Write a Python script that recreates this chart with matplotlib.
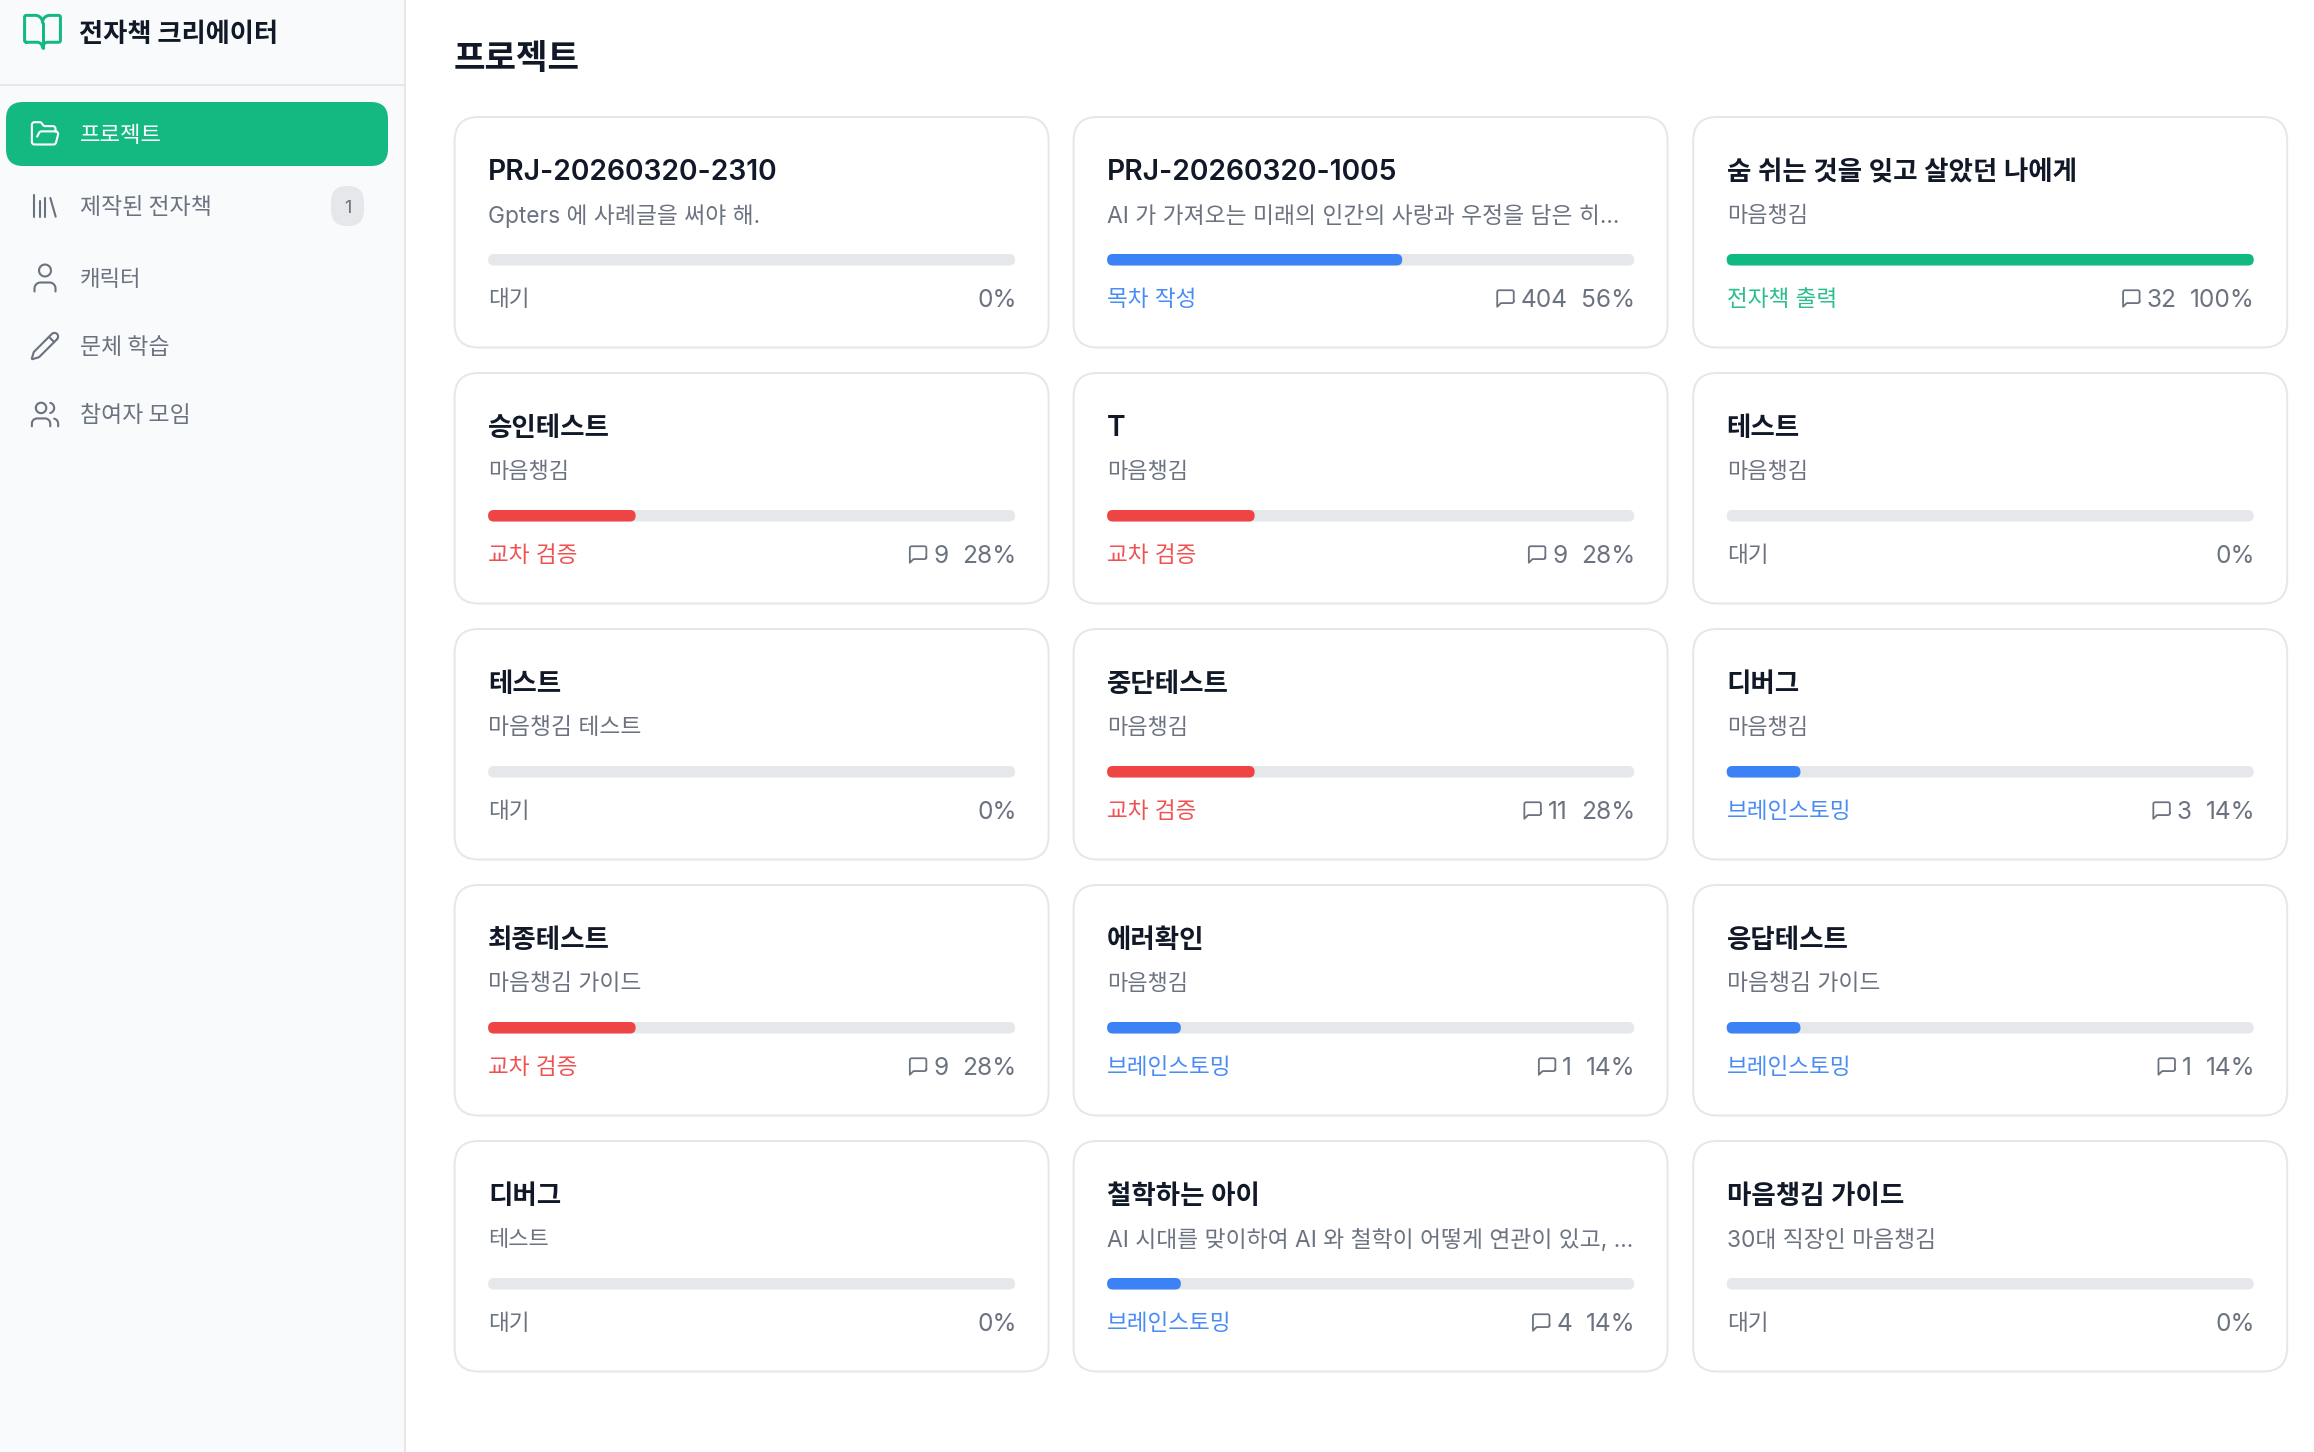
#!/usr/bin/env python3
"""Project dashboard screenshot redrawn on a full-figure pixel axes."""

import math
import re

import matplotlib
matplotlib.use("Agg")
import matplotlib.pyplot as plt
from matplotlib.patches import FancyBboxPatch, PathPatch, Rectangle
from matplotlib.path import Path

# ---------------------------
# Data
# ---------------------------

NAV_LABELS = ["프로젝트", "제작된 전자책", "캐릭터", "문체 학습", "참여자 모임"]
NAV_BADGE = "1"
APP_TITLE = "전자책 크리에이터"
PAGE_TITLE = "프로젝트"

TITLES = [
    "PRJ-20260320-2310", "PRJ-20260320-1005", "숨 쉬는 것을 잊고 살았던 나에게",
    "승인테스트", "T", "테스트",
    "테스트", "중단테스트", "디버그",
    "최종테스트", "에러확인", "응답테스트",
    "디버그", "철학하는 아이", "마음챙김 가이드",
]
SUBTITLES = [
    "Gpters 에 사례글을 써야 해.", "AI 가 가져오는 미래의 인간의 사랑과 우정을 담은 히...", "마음챙김",
    "마음챙김", "마음챙김", "마음챙김",
    "마음챙김 테스트", "마음챙김", "마음챙김",
    "마음챙김 가이드", "마음챙김", "마음챙김 가이드",
    "테스트", "AI 시대를 맞이하여 AI 와 철학이 어떻게 연관이 있고, ...", "30대 직장인 마음챙김",
]
STAGES = [
    "대기", "목차 작성", "전자책 출력",
    "교차 검증", "교차 검증", "대기",
    "대기", "교차 검증", "브레인스토밍",
    "교차 검증", "브레인스토밍", "브레인스토밍",
    "대기", "브레인스토밍", "대기",
]
COMMENTS = [None, 404, 32, 9, 9, None, None, 11, 3, 9, 1, 1, None, 4, None]
PERCENTS = [0, 56, 100, 28, 28, 0, 0, 28, 14, 28, 14, 14, 0, 14, 0]

BAR_COLORS = {
    "대기": "#6b7280",
    "목차 작성": "#3b82f6",
    "브레인스토밍": "#3b82f6",
    "교차 검증": "#ef4444",
    "전자책 출력": "#10b981",
}
# the stage labels are set thin in the screenshot, so they read paler than the bars
STAGE_TEXT_COLORS = {
    "대기": "#6b7280",
    "목차 작성": "#4a8cf6",
    "브레인스토밍": "#4a8cf6",
    "교차 검증": "#f05252",
    "전자책 출력": "#2bbf8e",
}

# ---------------------------
# Layout (pixels of the 2314x1452 screen)
# ---------------------------

W, H = 2314, 1452
DPI = 100
GREEN = "#13b981"
INK = "#111827"
GRAY = "#6b7280"
LINE = "#e5e7eb"
FONT = ["Inter", "Noto Sans CJK KR"]
KR_FIRST = ["Noto Sans CJK KR", "Inter"]

CARD_X = [454.6, 1073.6, 1693.2]
CARD_Y = [117, 373, 629, 885, 1141]
CARD_W, CARD_H = 594, 230.5
PAD = 33.5

NAV_Y = [134, 206, 278, 346, 414.5]
NAV_ICON_SIZE = [31.5, 32, 36, 31.5, 31.5]

ICON_BOOK = ["M12 7v14", "M3 18a1 1 0 0 1-1-1V4a1 1 0 0 1 1-1h5a4 4 0 0 1 4 4 4 4 0 0 1 4-4h5a1 1 0 0 1 1 1v13a1 1 0 0 1-1 1h-6a3 3 0 0 0-3 3 3 3 0 0 0-3-3z"]
ICON_FOLDER = ["M6 14l1.5-2.9A2 2 0 0 1 9.24 10H20a2 2 0 0 1 1.94 2.5l-1.54 6a2 2 0 0 1-1.95 1.5H4a2 2 0 0 1-2-2V5a2 2 0 0 1 2-2h3.9a2 2 0 0 1 1.69.9l.81 1.2a2 2 0 0 0 1.67.9H18a2 2 0 0 1 2 2v2"]
ICON_LIBRARY = ["M16 6l4 14", "M12 6v14", "M8 8v12", "M4 4v16"]
ICON_USER = ["M19 21v-2a4 4 0 0 0-4-4H9a4 4 0 0 0-4 4v2", "M8 7a4 4 0 1 0 8 0a4 4 0 1 0-8 0z"]
ICON_PENCIL = ["M21.174 6.812a1 1 0 0 0-3.986-3.987L3.842 16.174a2 2 0 0 0-.5.83l-1.321 4.352a.5.5 0 0 0 .623.622l4.353-1.32a2 2 0 0 0 .83-.497z", "M15 5l4 4"]
ICON_USERS = ["M16 21v-2a4 4 0 0 0-4-4H6a4 4 0 0 0-4 4v2", "M5 7a4 4 0 1 0 8 0a4 4 0 1 0-8 0z", "M22 21v-2a4 4 0 0 0-3-3.87", "M16 3.13a4 4 0 0 1 0 7.75"]
ICON_COMMENT = ["M21 15a2 2 0 0 1-2 2H7l-4 4V5a2 2 0 0 1 2-2h14a2 2 0 0 1 2 2z"]
NAV_ICONS = [ICON_FOLDER, ICON_LIBRARY, ICON_USER, ICON_PENCIL, ICON_USERS]


# ---------------------------
# Helpers
# ---------------------------

def arc_points(x0, y0, rx, ry, large, sweep, x1, y1, n=10):
    # svg endpoint arc to polyline (no x-rotation in these icons)
    dx, dy = (x0 - x1) / 2, (y0 - y1) / 2
    scale = math.sqrt(max(1.0, dx * dx / (rx * rx) + dy * dy / (ry * ry)))
    rx, ry = rx * scale, ry * scale
    num = rx**2 * ry**2 - rx**2 * dy**2 - ry**2 * dx**2
    den = rx**2 * dy**2 + ry**2 * dx**2
    k = math.sqrt(max(0.0, num / den))
    if large == sweep:
        k = -k
    cxp, cyp = k * rx * dy / ry, -k * ry * dx / rx
    cx, cy = cxp + (x0 + x1) / 2, cyp + (y0 + y1) / 2
    a0 = math.atan2((dy - cyp) / ry, (dx - cxp) / rx)
    a1 = math.atan2((-dy - cyp) / ry, (-dx - cxp) / rx)
    if sweep and a1 < a0:
        a1 += 2 * math.pi
    if not sweep and a1 > a0:
        a1 -= 2 * math.pi
    return [
        (cx + rx * math.cos(a0 + (a1 - a0) * i / n), cy + ry * math.sin(a0 + (a1 - a0) * i / n))
        for i in range(1, n + 1)
    ]


def svg_to_path(d, ox, oy, s):
    tokens = re.findall(r"[a-zA-Z]|-?\d*\.?\d+", d)
    verts, codes = [], []
    i, x, y, start = 0, 0.0, 0.0, (0.0, 0.0)
    cmd = None

    def num():
        nonlocal i
        v = float(tokens[i])
        i += 1
        return v

    while i < len(tokens):
        if tokens[i].isalpha():
            cmd = tokens[i]
            i += 1
        if cmd in "zZ":
            verts.append(start)
            codes.append(Path.LINETO)
            continue
        rel = cmd.islower()
        c = cmd.upper()
        if c == "M":
            a, b = num(), num()
            x, y = (x + a, y + b) if rel else (a, b)
            start = (x, y)
            verts.append((x, y))
            codes.append(Path.MOVETO)
        elif c == "L":
            a, b = num(), num()
            x, y = (x + a, y + b) if rel else (a, b)
            verts.append((x, y))
            codes.append(Path.LINETO)
        elif c == "H":
            a = num()
            x = x + a if rel else a
            verts.append((x, y))
            codes.append(Path.LINETO)
        elif c == "V":
            a = num()
            y = y + a if rel else a
            verts.append((x, y))
            codes.append(Path.LINETO)
        elif c == "A":
            rx, ry, _rot, large, sweep, a, b = [num() for _ in range(7)]
            ex, ey = (x + a, y + b) if rel else (a, b)
            pts = arc_points(x, y, rx, ry, int(large), int(sweep), ex, ey)
            verts.extend(pts)
            codes.extend([Path.LINETO] * len(pts))
            x, y = ex, ey
    return Path([(ox + vx * s, oy + vy * s) for vx, vy in verts], codes)


def draw_icon(ax, paths, cx, cy, size, color, width):
    s = size / 24
    for d in paths:
        path = svg_to_path(d, cx - size / 2, cy - size / 2, s)
        ax.add_patch(PathPatch(path, fill=False, edgecolor=color, lw=width * 72 / DPI,
                               capstyle="round", joinstyle="round", zorder=4))


def rounded(ax, x, y, w, h, r, face, edge="none", lw=0.0, z=2):
    ax.add_patch(FancyBboxPatch((x, y), w, h, boxstyle=f"round,pad=0,rounding_size={r}",
                                facecolor=face, edgecolor=edge, lw=lw * 72 / DPI, zorder=z))


def label(ax, x, y, s, px, color, weight="normal", ha="left", va="baseline", family=None):
    return ax.text(x, y, s, fontsize=px * 72 / DPI, color=color, weight=weight, ha=ha, va=va,
                   family=family or FONT, zorder=5)


def text_width(fig, artist):
    return artist.get_window_extent(fig.canvas.get_renderer()).width


# ---------------------------
# Drawing
# ---------------------------

def draw_sidebar(fig, ax):
    ax.add_patch(Rectangle((0, 0), 404, H, facecolor="#f9fafb", edgecolor="none", zorder=1))
    ax.add_patch(Rectangle((404, 0), 2, H, facecolor=LINE, edgecolor="none", zorder=1))
    ax.add_patch(Rectangle((0, 84), 404, 2, facecolor=LINE, edgecolor="none", zorder=1))

    draw_icon(ax, ICON_BOOK, 42.5, 31.5, 43, GREEN, 3.0)
    label(ax, 79, 41.5, APP_TITLE, 26.3, INK, weight="bold", family=KR_FIRST)

    rounded(ax, 6, 102, 382, 64, 17, GREEN)
    for i, (name, y, icon, size) in enumerate(zip(NAV_LABELS, NAV_Y, NAV_ICONS, NAV_ICON_SIZE)):
        color = "white" if i == 0 else GRAY
        draw_icon(ax, icon, 45, y, size, color, 2.1)
        px = 22.9 if " " in name else 22.3
        label(ax, 80, y + 7.5, name, px, color, weight="medium" if i == 0 else "normal", family=KR_FIRST)

    rounded(ax, 331, 186, 33, 40, 16, LINE)
    label(ax, 347.5, NAV_Y[1] + 7, NAV_BADGE, 18, GRAY, ha="center")


def draw_card(fig, ax, x, y, title, sub, stage, comments, pct):
    rounded(ax, x, y, CARD_W, CARD_H, 24, "white", edge=LINE, lw=2.0)
    left = x + PAD
    right = x + CARD_W - PAD
    # latin titles run wider than the hangul ones at the same cap height
    label(ax, left, y + 63, title, 28.2 if title.isascii() else 26.5, INK, weight="semibold")
    sub_y = y + 106 if sub[0].isascii() else y + 105
    label(ax, left, sub_y, sub, 22.8 if " " in sub else 22, GRAY)

    bar_w = right - left
    rounded(ax, left, y + 137, bar_w, 11.5, 5.7, LINE, z=3)
    if pct > 0:
        rounded(ax, left, y + 137, bar_w * pct / 100, 11.5, 5.7, BAR_COLORS[stage], z=4)

    label(ax, left, y + 189, stage, 22.6, STAGE_TEXT_COLORS[stage])
    text_right = right + 1.5
    pct_text = label(ax, text_right, y + 190, f"{pct}%", 24.5, GRAY, ha="right")
    if comments is None:
        return
    cursor = text_right - text_width(fig, pct_text) - 14
    count_text = label(ax, cursor, y + 190, str(comments), 24.5, GRAY, ha="right")
    cursor -= text_width(fig, count_text) + 15
    draw_icon(ax, ICON_COMMENT, cursor, y + 181.5, 22, GRAY, 1.8)


def main():
    fig = plt.figure(figsize=(W / DPI, H / DPI), dpi=DPI, facecolor="white")
    ax = fig.add_axes([0, 0, 1, 1])
    ax.set_xlim(0, W)
    ax.set_ylim(H, 0)
    ax.axis("off")
    fig.canvas.draw()

    draw_sidebar(fig, ax)
    label(ax, 454, 68.5, PAGE_TITLE, 34.3, INK, weight="bold", family=KR_FIRST)

    for i, title in enumerate(TITLES):
        row, col = divmod(i, 3)
        draw_card(fig, ax, CARD_X[col], CARD_Y[row], title, SUBTITLES[i], STAGES[i], COMMENTS[i], PERCENTS[i])

    fig.savefig("out.png", dpi=DPI)


if __name__ == "__main__":
    main()
